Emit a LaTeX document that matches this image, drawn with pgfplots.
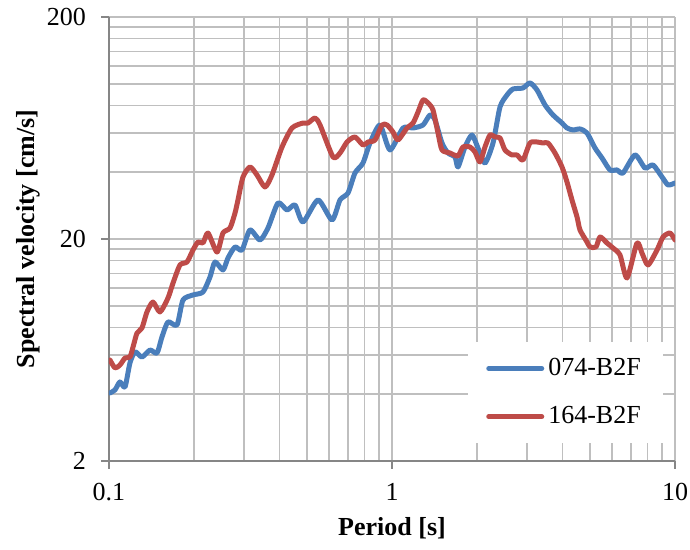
\documentclass[border=0pt]{standalone}
\usepackage{fontspec}
\setmainfont{Liberation Serif}
\usepackage{pgfplots}
\pgfplotsset{compat=1.18}

\definecolor{sblue}{HTML}{4A7EBB}
\definecolor{sred}{HTML}{BE4B48}
\definecolor{gridgray}{HTML}{BFBFBF}
\definecolor{axisgray}{HTML}{868686}

\begin{document}
\begin{tikzpicture}
\useasboundingbox (-54.5pt,-44.5pt) rectangle (290.5pt,230.5pt);
\begin{axis}[
    xmode=log, ymode=log,
    scale only axis,
    width=283pt, height=222pt,
    xmin=0.1, xmax=10,
    ymin=2, ymax=200,
    font=\fontsize{13}{15.6}\selectfont,
    xtick={0.1,1,10}, xticklabels={0.1,1,10},
    ytick={2,20,200}, yticklabels={2,20,200},
    minor xtick={0.2,0.3,0.4,0.5,0.6,0.7,0.8,0.9,2,3,4,5,6,7,8,9},
    minor ytick={4,6,8,10,12,14,16,18,40,60,80,100,120,140,160,180},
    grid=both,
    major grid style={gridgray, line width=0.75pt},
    minor grid style={gridgray, line width=0.75pt},
    axis x line*=bottom, axis y line*=left,
    axis line style={axisgray, line width=0.75pt, -},
    tick style={axisgray, line width=0.75pt},
    tick align=outside,
    major tick length=4pt, minor tick length=0pt,
    yticklabel style={xshift=-4pt},
    xticklabel style={yshift=-3.5pt},
    xlabel={\textbf{Period [s]}},
    ylabel={\textbf{Spectral velocity [cm/s]}},
    xlabel style={at={(axis description cs:0.5,-0.152)}, anchor=center},
    ylabel style={at={(axis description cs:-0.143,0.5)}, anchor=center, rotate=0},
    legend style={at={(axis description cs:0.979,0.268)}, anchor=north east,
        draw=none, fill=white, inner xsep=9pt, inner ysep=6pt,
        row sep=10pt, font=\fontsize{13}{15.6}\selectfont},
    legend cell align=left,
    legend image code/.code={\draw[#1] (1.5pt,0pt) -- (28pt,0pt);},
    every axis plot/.append style={line width=2.5pt, line join=round, line cap=round, smooth, tension=0.4},
]
\addplot[sblue] coordinates {
(0.1008,4.05) (0.1050,4.18) (0.1093,4.54) (0.1139,4.31) (0.1186,5.53) (0.1236,6.20)
(0.1308,5.88) (0.1396,6.32) (0.1478,6.13) (0.1539,7.24) (0.1616,8.46) (0.1739,8.20)
(0.1826,10.62) (0.1981,11.19) (0.2149,11.54) (0.2275,13.49) (0.2369,15.76) (0.2528,14.50)
(0.2633,16.42) (0.2788,18.41) (0.2951,17.84) (0.3149,21.96) (0.3416,19.80) (0.3646,22.42)
(0.3956,29.05) (0.4256,27.02) (0.4542,28.46) (0.4849,23.86) (0.5478,29.98) (0.6138,24.36)
(0.6551,29.98) (0.6992,32.23) (0.7400,39.66) (0.7898,43.99) (0.8362,54.13) (0.9072,65.24)
(0.9838,50.35) (1.094,63.25) (1.187,63.25) (1.287,65.24) (1.362,72.37) (1.419,68.71)
(1.502,54.13) (1.577,48.80) (1.670,46.82) (1.711,42.21) (1.811,51.92) (1.917,58.84)
(2.013,51.40) (2.131,43.99) (2.275,54.13) (2.408,78.64) (2.549,89.02) (2.677,94.77)
(2.903,95.77) (3.073,100.9) (3.254,93.80) (3.473,80.28) (3.706,72.37) (3.988,66.60)
(4.153,63.25) (4.361,61.95) (4.617,62.60) (4.887,60.05) (5.216,51.40) (5.521,46.34)
(5.893,40.92) (6.238,40.92) (6.551,39.66) (7.223,47.80) (7.834,41.77) (8.362,43.09)
(8.999,38.05) (9.448,35.02) (10,35.76)
};
\addlegendentry{074-B2F}
\addplot[sred] coordinates {
(0.1008,5.70) (0.1050,5.25) (0.1093,5.41) (0.1139,5.82) (0.1186,5.88) (0.1216,6.52)
(0.1256,7.54) (0.1308,7.95) (0.1362,9.38) (0.1430,10.40) (0.1514,9.38) (0.1616,10.84)
(0.1684,12.67) (0.1782,15.28) (0.1887,15.76) (0.1981,17.84) (0.2063,19.39) (0.2149,19.19)
(0.2238,21.28) (0.2408,17.47) (0.2528,21.28) (0.2677,22.42) (0.2788,26.19) (0.2856,29.98)
(0.2975,38.05) (0.3149,42.21) (0.3334,38.85) (0.3558,34.29) (0.3767,38.85) (0.4087,51.92)
(0.4433,63.25) (0.4849,66.60) (0.5050,66.60) (0.5346,70.15) (0.5569,65.24) (0.6188,46.82)
(0.6551,48.80) (0.6935,54.69) (0.7400,57.61) (0.7898,53.01) (0.8227,54.69) (0.8710,55.84)
(0.9220,65.24) (0.9601,65.24) (1.008,60.68) (1.050,55.84) (1.130,63.25) (1.187,66.60)
(1.236,74.66) (1.287,84.57) (1.341,81.98) (1.396,76.22) (1.454,60.05) (1.502,50.35)
(1.603,48.80) (1.711,47.30) (1.781,51.92) (1.886,51.92) (1.965,49.31) (2.046,44.45)
(2.131,51.92) (2.220,58.84) (2.312,57.61) (2.408,57.02) (2.507,50.35) (2.655,47.80)
(2.765,47.80) (2.903,45.39) (3.073,54.13) (3.254,54.69) (3.417,54.13) (3.558,54.13)
(3.767,48.80) (3.988,42.21) (4.153,36.13) (4.325,29.98) (4.506,25.13) (4.617,21.96)
(4.887,19.39) (5.008,18.41) (5.258,18.41) (5.433,20.42) (5.751,19.19) (6.037,18.22)
(6.393,16.94) (6.768,13.35) (7.341,19.19) (7.643,17.30) (8.028,15.28) (8.639,17.84)
(9.072,20.42) (9.602,21.28) (10,19.80)
};
\addlegendentry{164-B2F}
\end{axis}
\end{tikzpicture}
\end{document}
